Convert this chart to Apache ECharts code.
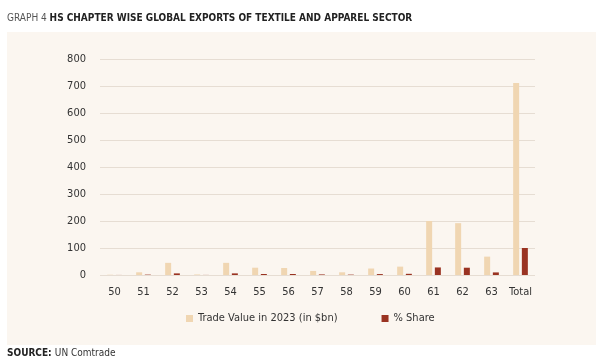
<!DOCTYPE html>
<html><head><meta charset="utf-8">
<script src="https://cdn.jsdelivr.net/npm/echarts@6/dist/echarts.min.js"></script>
<style>html,body{margin:0;padding:0;background:#fff}#c{width:601px;height:361px}</style>
</head><body><div id="c"></div>
<script>
var categories = ['50','51','52','53','54','55','56','57','58','59','60','61','62','63','Total'];
var tradeValue = [1, 10, 45, 2, 45, 27, 26, 15, 10, 24, 31, 200, 192, 68, 711];
var shareValue = [0.2, 1.4, 6, 0.3, 6, 3.8, 3.7, 2.1, 1.4, 3.4, 4.4, 28, 27, 9.6, 100];
var yTicks = [0, 100, 200, 300, 400, 500, 600, 700, 800];
var FONT = "'Liberation Sans Narrow','DejaVu Sans Condensed',sans-serif";
var chart = echarts.init(document.getElementById('c'), null, {renderer:'canvas'});
chart.setOption({
  backgroundColor: '#ffffff',
  animation: false,
  graphic: [{type:'rect', left:7, top:32, shape:{width:589, height:313}, style:{fill:'#fbf6f0'}, z:-10}],
  title: [{
    left: 7, top: 13, padding: 0,
    text: '{a|GRAPH 4 }{b|HS CHAPTER WISE GLOBAL EXPORTS OF TEXTILE AND APPAREL SECTOR}',
    textStyle: {rich: {
      a: {fontFamily: FONT, fontSize: 10, color: '#555', fontWeight: 'normal'},
      b: {fontFamily: FONT, fontSize: 10, color: '#222', fontWeight: 'bold'}
    }}
  }, {
    left: 7, top: 348, padding: 0,
    text: '{a|SOURCE: }{b|UN Comtrade}',
    textStyle: {rich: {
      a: {fontFamily: FONT, fontSize: 10, color: '#222', fontWeight: 'bold'},
      b: {fontFamily: FONT, fontSize: 10, color: '#333', fontWeight: 'normal'}
    }}
  }],
  legend: {
    top: 308, left: 181, itemGap: 44, itemWidth: 7, itemHeight: 7,
    icon: 'rect',
    textStyle: {fontFamily: FONT, fontSize: 11, color: '#333'},
    data: ['Trade Value in 2023 (in $bn)', '% Share']
  },
  grid: {left: 100, right: 66, top: 59, bottom: 86},
  xAxis: {
    type: 'category', data: categories,
    axisLine: {show: false}, axisTick: {show: false},
    axisLabel: {fontFamily: FONT, fontSize: 11, color: '#333', margin: 12, interval: 0}
  },
  yAxis: {
    type: 'value', min: 0, max: 800, interval: 100,
    axisLine: {show: false}, axisTick: {show: false},
    splitLine: {lineStyle: {color: '#e6ddd3', width: 1}},
    axisLabel: {fontFamily: FONT, fontSize: 11, color: '#333', margin: 14}
  },
  series: [{
    name: 'Trade Value in 2023 (in $bn)', type: 'bar', data: tradeValue,
    barWidth: 6, barGap: '45%', itemStyle: {color: '#f0d6b2'}
  }, {
    name: '% Share', type: 'bar', data: shareValue,
    barWidth: 6, itemStyle: {color: '#9a3322'}
  }]
});
</script></body></html>
